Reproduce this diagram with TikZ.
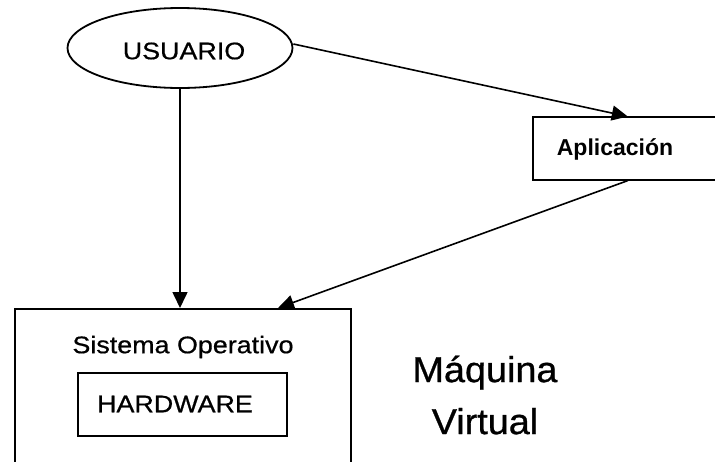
\documentclass[tikz,border=0pt]{standalone}
\usepackage{fontspec}
\setmainfont{Liberation Sans}
\newfontfamily\labelfont{Liberation Sans}[FakeStretch=1.12,FakeBold=0.6]
\newfontfamily\bigfont{Liberation Sans}[FakeStretch=1.05,FakeBold=0.8]
\usetikzlibrary{shapes.geometric,arrows.meta}
\begin{document}
\begin{tikzpicture}[x=1pt,y=-1pt,
    line width=1.6pt,
    box/.style={draw,rectangle,inner sep=0pt},
    lbl/.style={inner sep=0pt,font=\labelfont\fontsize{24}{26}\selectfont},
    arr/.style={-{Triangle[length=16pt,width=15pt]}}]
  \useasboundingbox (0,0) rectangle (715,461);

  % user
  \node[draw,ellipse,line width=1.8pt,minimum width=225pt,minimum height=80pt,inner sep=0pt]
    (usuario) at (180,48) {};
  \node[lbl] (usuariotext) at (184,51) {USUARIO};

  % application box (runs past the right edge)
  \node[box,anchor=north west,minimum width=190pt,minimum height=63pt] (apl) at (532,116) {};
  \node[inner sep=0pt,font=\bfseries\fontsize{23}{26}\selectfont] (apltext) at (615,149) {Aplicación};

  % operating system box (runs past the bottom edge)
  \node[box,anchor=north west,minimum width=336pt,minimum height=200pt] (so) at (14,308) {};
  \node[lbl] (sotext) at (183,347) {Sistema Operativo};

  % hardware box
  \node[box,minimum width=209pt,minimum height=63pt] (hw) at (182.5,404.5) {};
  \node[lbl] (hwtext) at (175,404) {HARDWARE};

  % virtual machine label
  \node[inner sep=0pt,align=center,font=\bigfont\fontsize{36}{52}\selectfont] (mv) at (485,395)
    {Máquina\\Virtual};

  % connectors
  \coordinate (aplin) at ([yshift=-0.5pt]apl.north);
  \coordinate (sohit) at ([xshift=264pt]so.north west);
  \draw[arr] ([yshift=4pt]usuario.east) -- (aplin);
  \draw[arr] (usuario.south) -- (usuario.south |- so.north);
  \draw[arr] (apl.south) -- (sohit);
\end{tikzpicture}
\end{document}
